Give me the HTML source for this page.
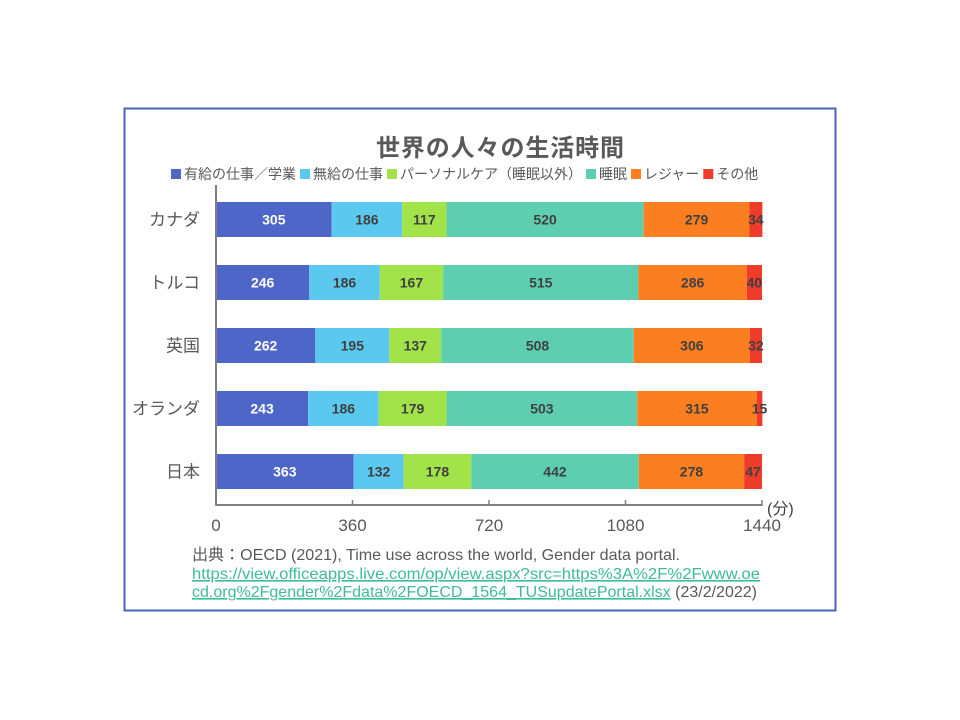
<!DOCTYPE html>
<html><head><meta charset="utf-8"><style>
body{margin:0;background:#fff;width:960px;height:720px;overflow:hidden;font-family:"Liberation Sans","Noto Sans CJK JP",sans-serif}
</style></head><body>
<svg width="960" height="720" style="position:absolute;left:0;top:0;font-family:'Liberation Sans','Noto Sans CJK JP',sans-serif">
<rect x="124.5" y="108.5" width="711" height="502" fill="#fff" stroke="#4a62c0" stroke-width="2"/>
<text x="500" y="156" text-anchor="middle" font-size="24" font-weight="bold" fill="#595959" textLength="248">世界の人々の生活時間</text>
<g id="legend"></g>
<g id="bars"></g>
<g id="axes"></g>
<text x="192" y="560" font-size="16" fill="#595959" textLength="488" lengthAdjust="spacingAndGlyphs">出典：OECD (2021), Time use across the world, Gender data portal.</text>
<text x="192" y="579" font-size="16" fill="#3dbb9c" text-decoration="underline" textLength="568" lengthAdjust="spacingAndGlyphs">https://view.officeapps.live.com/op/view.aspx?src=https%3A%2F%2Fwww.oe</text>
<text x="192" y="597" font-size="16" fill="#595959" textLength="565" lengthAdjust="spacingAndGlyphs"><tspan fill="#3dbb9c" text-decoration="underline">cd.org%2Fgender%2Fdata%2FOECD_1564_TUSupdatePortal.xlsx</tspan> (23/2/2022)</text>
</svg>
<script>
const categories=["カナダ","トルコ","英国","オランダ","日本"];
const seriesNames=["有給の仕事／学業","無給の仕事","パーソナルケア（睡眠以外）","睡眠","レジャー","その他"];
const paidWork=[305,246,262,243,363];
const unpaidWork=[186,186,195,186,132];
const personalCare=[117,167,137,179,178];
const sleep=[520,515,508,503,442];
const leisure=[279,286,306,315,278];
const other=[34,40,32,15,47];
const ticks=[0,360,720,1080,1440];
const series=[paidWork,unpaidWork,personalCare,sleep,leisure,other];
const colors=["#4f66c9","#5bc8f0","#a3e34a","#5dcfb0","#fb7f21","#ee3b2a"];
const NS="http://www.w3.org/2000/svg";
const x=v=>216+v*(546/1440);
const y=i=>202+i*63;
const bh=35;
function mk(tag,attrs,parent){const e=document.createElementNS(NS,tag);for(const k in attrs)e.setAttribute(k,attrs[k]);parent.appendChild(e);return e;}
const bars=document.getElementById('bars');
categories.forEach((c,i)=>{
  let acc=0;
  series.forEach((s,j)=>{
    const v=s[i];
    const r=mk('rect',{x:x(acc),y:y(i),width:x(acc+v)-x(acc),height:bh,fill:colors[j]},bars);
    
    
    const t=mk('text',{x:(x(acc)+x(acc+v))/2,y:y(i)+bh/2+5,'text-anchor':'middle','font-size':14,'font-weight':'bold',fill:j==0?'#fff':'#404040'},bars);
    t.textContent=v;
    
    
    acc+=v;
  });
  const l=mk('text',{x:200,y:y(i)+bh/2+6,'text-anchor':'end','font-size':17,fill:'#595959'},bars);
  l.textContent=c;
  
  
});
const ax=document.getElementById('axes');
const vl=mk('line',{x1:216,y1:185,x2:216,y2:505,stroke:'#7f7f7f','stroke-width':2},ax);


const hl=mk('line',{x1:216,y1:505,x2:x(1440),y2:505,stroke:'#7f7f7f','stroke-width':2},ax);


ticks.forEach(t=>{
  mk('line',{x1:x(t),y1:500,x2:x(t),y2:506,stroke:'#7f7f7f','stroke-width':1.5},ax);
  const tx=mk('text',{x:x(t),y:531,'text-anchor':'middle','font-size':17,fill:'#595959'},ax);
  tx.textContent=t;
  
  
});
const u=mk('text',{x:767,y:514,'font-size':16,fill:'#404040'},ax);
u.textContent='(分)';


const lg=document.getElementById('legend');
let lx=171;
seriesNames.forEach((n,j)=>{
  const r=mk('rect',{x:lx,y:169,width:10,height:10,fill:colors[j]},lg);
  
  
  const t=mk('text',{x:lx+13,y:179,'font-size':14,fill:'#595959'},lg);
  t.textContent=n;
  
  
  lx+=13+t.getComputedTextLength()+4;
});
</script>
</body></html>
